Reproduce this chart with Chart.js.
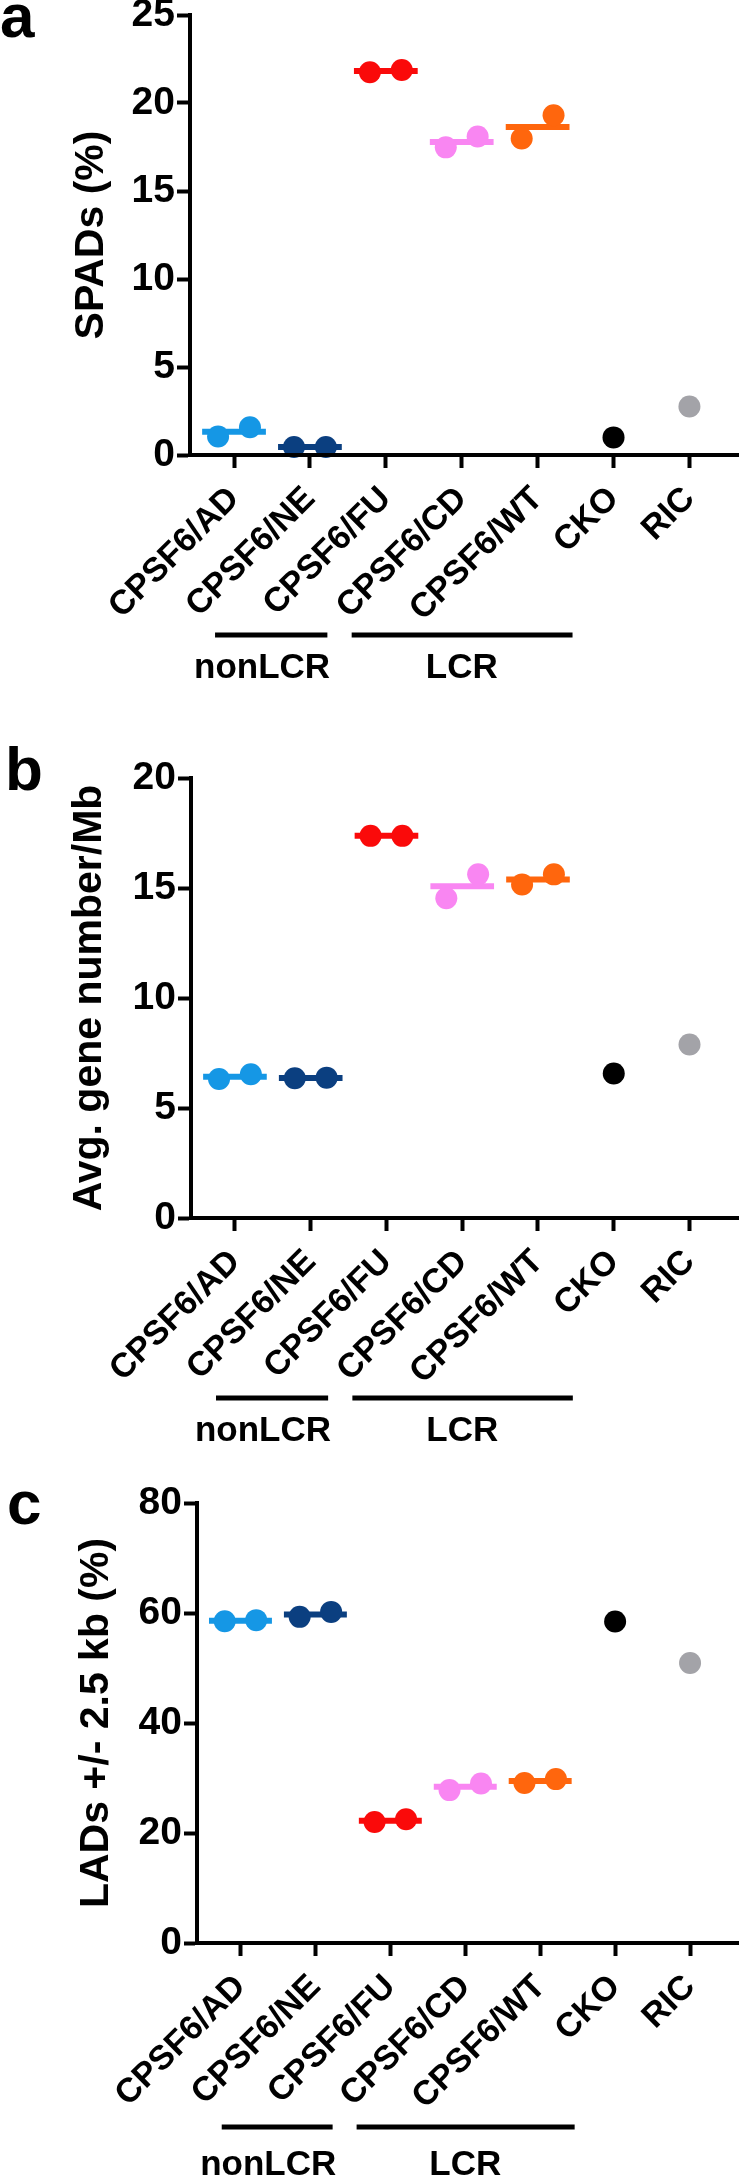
<!DOCTYPE html>
<html>
<head>
<meta charset="utf-8">
<script src="https://cdn.jsdelivr.net/npm/chart.js@4.4.1/dist/chart.umd.min.js"></script>
<style>
  html, body { margin: 0; padding: 0; background: #fff; }
  body { width: 749px; height: 2179px; position: relative; overflow: hidden; }
  canvas { position: absolute; left: 0; }
</style>
</head>
<body>
<canvas id="chartA" width="749" height="720" style="top:0px"></canvas>
<canvas id="chartB" width="749" height="740" style="top:720px"></canvas>
<canvas id="chartC" width="749" height="719" style="top:1460px"></canvas>
<script>
const FONT = "'Liberation Sans', Arial, Helvetica, sans-serif";

const categories = ["CPSF6/AD", "CPSF6/NE", "CPSF6/FU", "CPSF6/CD", "CPSF6/WT", "CKO", "RIC"];
const colors = ["#1597e5", "#0b3f80", "#fa0a0a", "#f986f2", "#ff660d", "#000000", "#a3a3a8"];

// groups under the x axis (in category index units)
const groupNames = ["nonLCR", "LCR"];
const groupFrom = [-0.25, 1.55];
const groupTo = [1.23, 4.46];
const groupTextAt = [0.37, 3.0];

// a: SPADs (%)
const spadsRep1 = [1.05, 0.45, 21.75, 17.48, 17.98, 1.0, 2.76];
const spadsRep2 = [1.58, 0.45, 21.88, 18.1, 19.3, null, null];
const spadsTicks = [0, 5, 10, 15, 20, 25];

// b: Avg. gene number/Mb
const genesRep1 = [6.32, 6.35, 17.37, 14.53, 15.16, 6.57, 7.89];
const genesRep2 = [6.53, 6.38, 17.37, 15.62, 15.62, null, null];
const genesTicks = [0, 5, 10, 15, 20];

// c: LADs +/- 2.5 kb (%)
const ladsRep1 = [58.5, 59.3, 22.0, 27.8, 29.1, 58.45, 50.9];
const ladsRep2 = [58.7, 60.2, 22.5, 29.0, 29.8, null, null];
const ladsTicks = [0, 20, 40, 60, 80];

const extras = {
  id: "extras",
  afterDraw(chart, args, opts) {
    const { ctx, chartArea } = chart;
    const x = chart.scales.x;
    ctx.save();
    ctx.fillStyle = "#000";
    ctx.strokeStyle = "#000";
    ctx.textBaseline = "alphabetic";
    ctx.font = "bold 62px " + FONT;
    ctx.textAlign = "left";
    ctx.fillText(opts.letter, opts.letterX, opts.letterY);

    ctx.lineWidth = 5;
    ctx.font = "bold 35px " + FONT;
    ctx.textAlign = "center";
    groupNames.forEach((g, i) => {
      const y = chartArea.bottom + opts.lineDy;
      ctx.beginPath();
      ctx.moveTo(x.getPixelForValue(groupFrom[i]), y);
      ctx.lineTo(x.getPixelForValue(groupTo[i]), y);
      ctx.stroke();
      ctx.fillText(g, x.getPixelForValue(groupTextAt[i]), chartArea.bottom + opts.textDy);
    });
    ctx.restore();
  }
};

function buildDatasets(rep1, rep2) {
  const sets = [];
  categories.forEach((c, i) => {
    const pts = [];
    if (rep2[i] == null) {
      pts.push({ x: i, y: rep1[i] });
    } else {
      pts.push({ x: i - 0.21, y: rep1[i] });
      pts.push({ x: i + 0.21, y: rep2[i] });
    }
    sets.push({
      type: "scatter",
      label: c,
      data: pts,
      backgroundColor: colors[i],
      borderWidth: 0,
      pointRadius: 11,
      clip: false
    });
    if (rep2[i] != null) {
      const mid = (rep1[i] + rep2[i]) / 2;
      sets.push({
        type: "line",
        label: c + " median",
        data: [{ x: i - 0.42, y: mid }, { x: i + 0.42, y: mid }],
        borderColor: colors[i],
        borderWidth: 6,
        borderCapStyle: "butt",
        pointRadius: 0,
        clip: false
      });
    }
  });
  return sets;
}

function makePanel(id, p) {
  const axisLine = { display: true, width: 4, color: "#000", z: 1 };
  const tickGrid = { drawOnChartArea: false, drawTicks: true, tickLength: 13, tickWidth: 4, tickColor: "#000" };
  return new Chart(document.getElementById(id), {
    type: "scatter",
    data: { datasets: buildDatasets(p.rep1, p.rep2) },
    options: {
      responsive: false,
      animation: false,
      layout: { padding: { top: p.top, right: p.right, bottom: 0, left: 0 } },
      plugins: {
        legend: { display: false },
        tooltip: { enabled: false },
        extras: p.extras
      },
      scales: {
        x: {
          type: "linear",
          min: -0.58,
          max: 6.64,
          afterBuildTicks: s => { s.ticks = categories.map((c, i) => ({ value: i })); },
          afterFit: s => { s.height = p.xHeight; s.paddingLeft = 0; s.paddingRight = 0; },
          ticks: {
            callback: v => categories[v],
            autoSkip: false,
            minRotation: 45,
            maxRotation: 45,
            padding: 11,
            color: "#000",
            font: { family: FONT, size: 34, weight: "bold" }
          },
          grid: tickGrid,
          border: axisLine
        },
        y: {
          min: 0,
          max: p.max,
          afterBuildTicks: s => { s.ticks = p.ticks.map(v => ({ value: v })); },
          afterFit: s => { s.width = p.yAxisX; s.paddingTop = 0; s.paddingBottom = 0; },
          ticks: {
            padding: 2,
            color: "#000",
            font: { family: FONT, size: 39, weight: "bold", lineHeight: 1 }
          },
          title: {
            display: true,
            text: p.title,
            color: "#000",
            font: { family: FONT, size: 41, weight: "bold" },
            padding: { top: p.titlePad, bottom: 0 }
          },
          grid: tickGrid,
          border: axisLine
        }
      }
    },
    plugins: [extras]
  });
}

makePanel("chartA", {
  rep1: spadsRep1, rep2: spadsRep2, ticks: spadsTicks, max: 25,
  title: "SPADs (%)", top: 15, right: 3, xHeight: 265, yAxisX: 190, titlePad: 67,
  extras: { letter: "a", letterX: 0, letterY: 37, lineDy: 180, textDy: 223 }
});

makePanel("chartB", {
  rep1: genesRep1, rep2: genesRep2, ticks: genesTicks, max: 20,
  title: "Avg. gene number/Mb", top: 58, right: 3, xHeight: 242, yAxisX: 191, titlePad: 65,
  extras: { letter: "b", letterX: 5, letterY: 70, lineDy: 180, textDy: 223 }
});

makePanel("chartC", {
  rep1: ladsRep1, rep2: ladsRep2, ticks: ladsTicks, max: 80,
  title: "LADs +/- 2.5 kb (%)", top: 43, right: 0, xHeight: 236, yAxisX: 197, titlePad: 72,
  extras: { letter: "c", letterX: 7, letterY: 64, lineDy: 184, textDy: 232 }
});
</script>
</body>
</html>
